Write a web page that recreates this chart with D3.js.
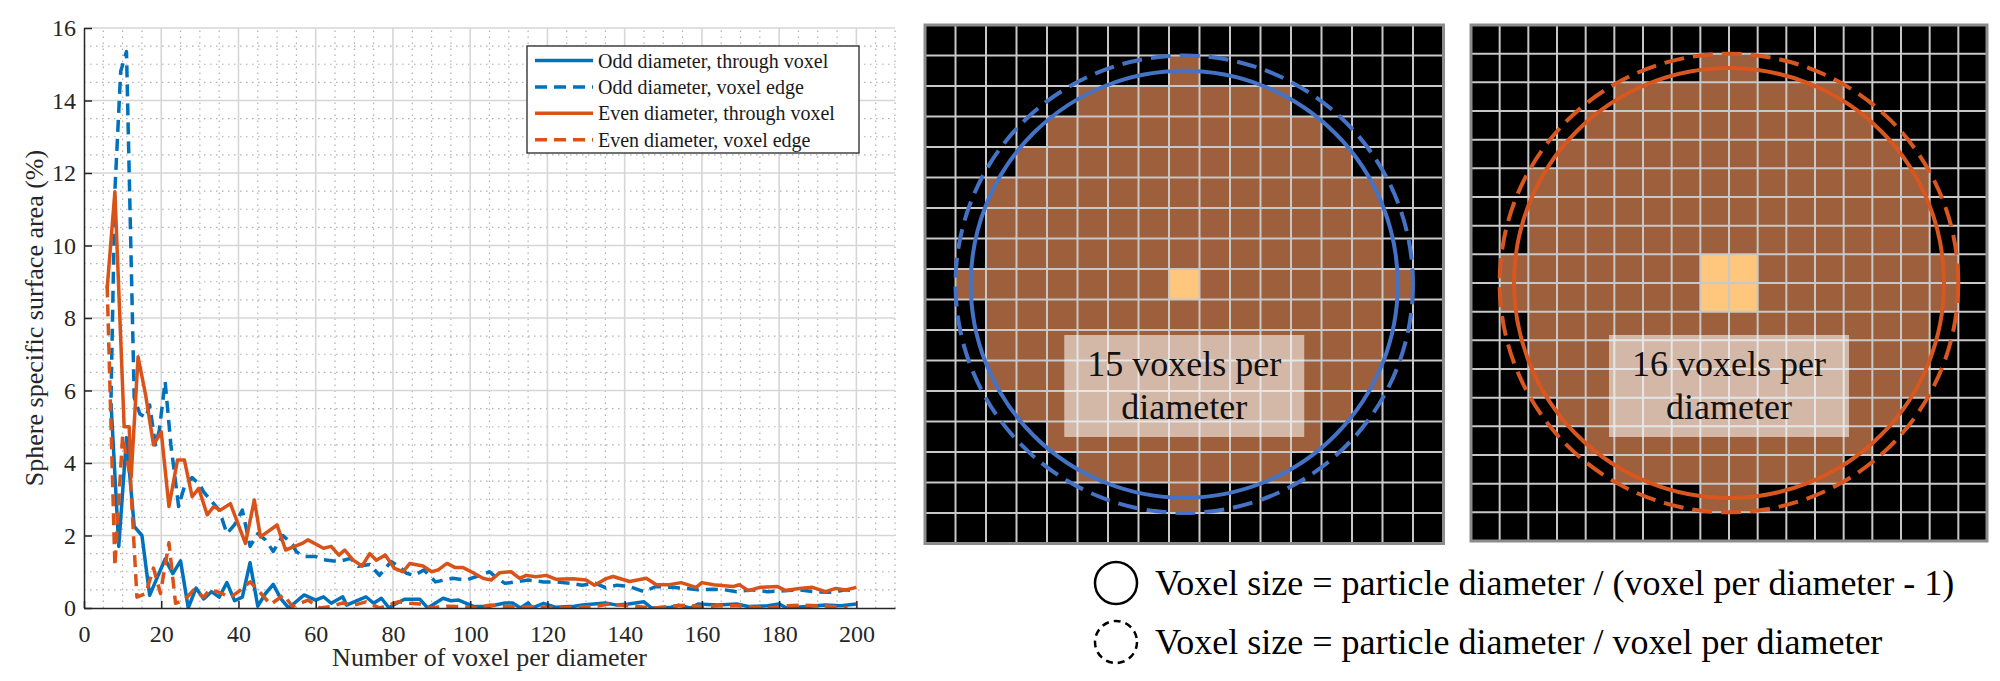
<!DOCTYPE html>
<html>
<head>
<meta charset="utf-8">
<script src="https://cdn.jsdelivr.net/npm/d3@7"></script>
<style>
  body { margin: 0; background: #fff; }
  svg { display: block; font-family: "Liberation Serif", "Times New Roman", serif; }
</style>
</head>
<body>
<div id="chart"></div>
<script>
// ---- chart data: [voxels per diameter, error %] ----
const oddThrough = [
  [7,5.65],[9,1.7],[11,4.7],[13,2.25],[15,2.0],[17,0.35],[19,0.85],[21,1.35],[23,0.95],[25,1.3],
  [27,0.0],[29,0.55],[31,0.25],[33,0.45],[35,0.3],[37,0.7],[39,0.2],[41,0.3],[43,1.25],[45,0.05],
  [47,0.4],[49,0.65],[51,0.25],[53,0.0],[57,0.36],[60,0.22],[62,0.31],[64,0.13],[67,0.31],[68,0.08],
  [71,0.22],[73,0.31],[75,0.13],[77,0.27],[79,0.0],[80,0.08],[83,0.24],[87,0.24],[89,0.0],[93,0.27],
  [95,0.2],[97,0.22],[101,0.04],[105,0.05],[109,0.14],[111,0.14],[113,0.0],[115,0.14],[116,0.0],[119,0.13],
  [122,0.02],[127,0.05],[129,0.08],[132,0.11],[135,0.14],[138,0.08],[141,0.11],[145,0.17],[147,0.0],[152,0.02],
  [154,0.08],[157,0.0],[159,0.11],[164,0.08],[169,0.11],[172,0.04],[177,0.06],[180,0.11],[182,0.0],[187,0.04],
  [192,0.08],[196,0.06],[200,0.11]
];
const oddEdge = [
  [7,5.8],[8,11.5],[9.5,14.8],[11,15.35],[13,5.8],[14.5,5.35],[16,5.25],[17,5.6],[18.5,4.5],[19.5,4.9],
  [21,6.25],[22.5,4.5],[24.5,2.8],[26,3.35],[28,3.6],[30,3.4],[31,3.2],[33,2.95],[35,2.7],[37,2.05],
  [39,2.3],[41,2.7],[43,1.7],[45,2.05],[47,1.88],[49,1.56],[51.5,2.0],[54,1.75],[55,1.55],[57,1.42],
  [60,1.42],[62,1.33],[66,1.28],[69,1.37],[71,1.15],[74,1.2],[76.5,0.9],[79.5,1.28],[81.5,1.15],[83.5,0.96],
  [85.5,0.9],[88,1.05],[91,0.72],[95.5,0.82],[99,0.77],[102.5,0.9],[105,1.0],[107,0.82],[109,0.68],[112,0.72],
  [115,0.77],[119,0.72],[122,0.72],[126,0.68],[129,0.63],[132.5,0.68],[135,0.56],[138,0.63],[141,0.6],[145,0.45],
  [148,0.59],[152,0.57],[156,0.54],[159,0.5],[163,0.52],[166,0.5],[169,0.45],[173,0.5],[177,0.45],[182,0.48],
  [185,0.5],[189,0.45],[194,0.43],[197,0.5],[200,0.48]
];
const evenThrough = [
  [6,8.82],[8,11.48],[10.4,5.0],[11.7,5.0],[12.2,3.6],[14,6.93],[16,5.85],[18,4.5],[20,4.86],[22,2.8],
  [24.2,4.08],[26,4.08],[28,3.07],[29.7,3.3],[31.9,2.57],[33.6,2.8],[35.3,2.7],[37.9,2.88],[41.8,1.78],[44.1,2.98],
  [45.7,1.96],[50,2.29],[52.2,1.6],[56.5,1.78],[58,1.88],[62,1.65],[64,1.7],[66,1.46],[67.5,1.6],[69.7,1.32],
  [72,1.16],[74,1.5],[75.7,1.32],[78,1.46],[80.4,1.09],[82.6,1.0],[84.4,1.23],[87.8,1.16],[90,1.0],[91.7,1.05],
  [94,1.23],[96,1.12],[98,1.12],[100.3,1.0],[103.3,0.82],[105.4,0.77],[107.6,0.97],[110.6,1.0],[112.8,0.82],[114.5,0.9],
  [117,0.86],[119.7,0.9],[122.3,0.79],[126.6,0.81],[130,0.77],[132.2,0.63],[135.2,0.81],[137,0.87],[141.3,0.73],[145.6,0.82],
  [148.2,0.64],[151.6,0.64],[154.6,0.7],[158.5,0.57],[160,0.7],[163,0.64],[168,0.59],[169.7,0.64],[172,0.48],[175,0.57],
  [179.6,0.59],[181.7,0.48],[185.2,0.54],[188.6,0.57],[192,0.45],[194.7,0.54],[197.2,0.5],[200,0.57]
];
const evenEdge = [
  [6,8.9],[8,1.15],[10,4.75],[12,3.6],[13.7,0.3],[16,0.4],[18,1.1],[19.8,0.4],[22,1.8],[23.7,0.13],
  [26,0.22],[28.4,0.5],[31,0.3],[32.5,0.5],[34.5,0.45],[38,0.3],[40,0.45],[43,0.72],[45,0.5],[48.3,0.1],
  [51.7,0.36],[54,0.04],[58,0.22],[61,0.0],[64,0.04],[67,0.14],[70,0.08],[73,0.17],[76.6,0.0],[81.3,0.17],
  [84.4,0.13],[87,0.11],[89.5,0.0],[94,0.05],[98,0.04],[101.6,0.0],[105,0.08],[108.5,0.05],[113.7,0.02],[117,0.05],
  [120.5,0.0],[124,0.0],[128.3,0.02],[132.6,0.05],[136,0.11],[141.3,0.06],[147.4,0.0],[151.6,0.04],[156,0.08],[159.4,0.04],
  [164.6,0.06],[169.7,0.06],[173.2,0.02],[177.5,0.0],[181.8,0.06],[185.2,0.08],[190.4,0.06],[193.8,0.04],[197.7,0.0]
];

const xTicks = [0, 20, 40, 60, 80, 100, 120, 140, 160, 180, 200];
const yTicks = [0, 2, 4, 6, 8, 10, 12, 14, 16];
const legendLabels = [
  "Odd diameter, through voxel",
  "Odd diameter, voxel edge",
  "Even diameter, through voxel",
  "Even diameter, voxel edge"
];

// ---- voxel diagrams: brown cells per row as [first col, last col] ----
const rows15 = [null,[8,8],[5,11],[4,12],[3,13],[2,14],[2,14],[2,14],[1,15],[2,14],[2,14],[2,14],[3,13],[4,12],[5,11],[8,8],null];
const centre15 = [[8,8]];
const rows16 = [null,[8,9],[5,12],[4,13],[3,14],[2,15],[2,15],[2,15],[1,16],[1,16],[2,15],[2,15],[2,15],[3,14],[4,13],[5,12],[8,9],null];
const centre16 = [[8,8],[9,8],[8,9],[9,9]];
const bottomLegend = [
  "Voxel size = particle diameter / (voxel per diameter - 1)",
  "Voxel size = particle diameter / voxel per diameter"
];

const SERIF = "'Liberation Serif', 'Times New Roman', serif";
const BLUE = "#0072BD", ORANGE = "#D95319";
const series = [
  { data: oddThrough, color: BLUE, dash: null },
  { data: oddEdge, color: BLUE, dash: "12,7" },
  { data: evenThrough, color: ORANGE, dash: null },
  { data: evenEdge, color: ORANGE, dash: "12,7" }
];

const svg = d3.select("#chart").append("svg")
  .attr("width", 2000)
  .attr("height", 681);

// ---------------- left: line chart ----------------
const x = d3.scaleLinear().domain([0, 210]).range([84, 895]);
const y = d3.scaleLinear().domain([0, 16]).range([608, 28]);

const grid = svg.append("g");
// minor dotted grid
grid.selectAll(".mx")
  .data(d3.range(0, 211, 5).filter(v => v % 20 !== 0))
  .enter().append("line")
  .attr("x1", d => x(d)).attr("x2", d => x(d))
  .attr("y1", y(0)).attr("y2", y(16))
  .attr("stroke", "#b0b0b0").attr("stroke-width", 1.2)
  .attr("stroke-dasharray", "1.5,4.5");
grid.selectAll(".my")
  .data(d3.range(0.5, 16, 0.5).filter(v => v % 2 !== 0))
  .enter().append("line")
  .attr("x1", x(0)).attr("x2", x(210))
  .attr("y1", d => y(d)).attr("y2", d => y(d))
  .attr("stroke", "#b0b0b0").attr("stroke-width", 1.2)
  .attr("stroke-dasharray", "1.5,4.5");
// major grid
grid.selectAll(".gx")
  .data(xTicks.filter(v => v > 0))
  .enter().append("line")
  .attr("x1", d => x(d)).attr("x2", d => x(d))
  .attr("y1", y(0)).attr("y2", y(16))
  .attr("stroke", "#d6d6d6").attr("stroke-width", 1.6);
grid.selectAll(".gy")
  .data(yTicks.filter(v => v > 0))
  .enter().append("line")
  .attr("x1", x(0)).attr("x2", x(210))
  .attr("y1", d => y(d)).attr("y2", d => y(d))
  .attr("stroke", "#d6d6d6").attr("stroke-width", 1.6);

svg.append("clipPath").attr("id", "plotClip")
  .append("rect")
  .attr("x", x(0)).attr("y", y(16))
  .attr("width", x(210) - x(0)).attr("height", y(0) - y(16));

const line = d3.line().x(d => x(d[0])).y(d => y(d[1]));
svg.append("g").attr("clip-path", "url(#plotClip)")
  .selectAll("path")
  .data(series)
  .enter().append("path")
  .attr("d", d => line(d.data))
  .attr("fill", "none")
  .attr("stroke", d => d.color)
  .attr("stroke-width", 3.5)
  .attr("stroke-linejoin", "round")
  .attr("stroke-dasharray", d => d.dash);

// axes
const xAxis = svg.append("g")
  .attr("transform", `translate(0,${y(0)})`)
  .call(d3.axisBottom(x).tickValues(xTicks).tickSizeInner(-7).tickSizeOuter(0).tickPadding(17));
const yAxis = svg.append("g")
  .attr("transform", `translate(${x(0)},0)`)
  .call(d3.axisLeft(y).tickValues(yTicks).tickSizeInner(-8).tickSizeOuter(0).tickPadding(8));
[xAxis, yAxis].forEach(a => {
  a.attr("font-family", SERIF).attr("font-size", 24);
  a.select(".domain").attr("stroke", "#262626").attr("stroke-width", 1.5);
  a.selectAll(".tick line").attr("stroke", "#262626").attr("stroke-width", 1.5);
  a.selectAll(".tick text")
    .attr("fill", "#262626")
    .style("font-family", SERIF)
    .style("font-size", "24px");
});

svg.append("text")
  .attr("x", (x(0) + x(210)) / 2).attr("y", 666)
  .attr("text-anchor", "middle")
  .attr("fill", "#262626")
  .style("font-size", "26px")
  .text("Number of voxel per diameter");
svg.append("text")
  .attr("transform", `translate(34,${(y(0) + y(16)) / 2}) rotate(-90)`)
  .attr("text-anchor", "middle")
  .attr("dominant-baseline", "central")
  .attr("fill", "#262626")
  .style("font-size", "26px")
  .text("Sphere specific surface area (%)");

// legend
const lg = svg.append("g").attr("transform", "translate(527,46)");
lg.append("rect")
  .attr("width", 332).attr("height", 107)
  .attr("fill", "#fff").attr("stroke", "#262626").attr("stroke-width", 1.3);
const items = lg.selectAll(".item")
  .data(series)
  .enter().append("g")
  .attr("transform", (d, i) => `translate(0,${14.5 + i * 26.4})`);
items.append("line")
  .attr("x1", 8).attr("x2", 66)
  .attr("stroke", d => d.color).attr("stroke-width", 3.5)
  .attr("stroke-dasharray", d => d.dash);
items.append("text")
  .attr("x", 71).attr("dy", "0.35em")
  .attr("fill", "#1a1a1a")
  .style("font-size", "20px")
  .text((d, i) => legendLabels[i]);

// ---------------- right: voxel diagrams ----------------
function voxelPanel(x0, y0, size, n, rows, centre, color) {
  const s = d3.scaleLinear().domain([0, rows.length]).range([0, size]);
  const g = svg.append("g").attr("transform", `translate(${x0},${y0})`);
  g.append("rect").attr("width", size).attr("height", size).attr("fill", "#000");

  const cells = [];
  rows.forEach((span, r) => {
    if (!span) return;
    d3.range(span[0], span[1] + 1).forEach(c => cells.push([c, r]));
  });
  g.selectAll(".cell")
    .data(cells)
    .enter().append("rect")
    .attr("x", d => s(d[0])).attr("y", d => s(d[1]))
    .attr("width", s(1)).attr("height", s(1))
    .attr("fill", "#9d5f3c");
  g.selectAll(".hot")
    .data(centre)
    .enter().append("rect")
    .attr("x", d => s(d[0])).attr("y", d => s(d[1]))
    .attr("width", s(1)).attr("height", s(1))
    .attr("fill", "#ffc77d");

  const ticks = d3.range(1, rows.length);
  g.selectAll(".vl").data(ticks).enter().append("line")
    .attr("x1", d => s(d)).attr("x2", d => s(d))
    .attr("y1", 0).attr("y2", size)
    .attr("stroke", "#c8c8c8").attr("stroke-width", 2);
  g.selectAll(".hl").data(ticks).enter().append("line")
    .attr("y1", d => s(d)).attr("y2", d => s(d))
    .attr("x1", 0).attr("x2", size)
    .attr("stroke", "#c8c8c8").attr("stroke-width", 2);
  g.append("rect").attr("width", size).attr("height", size)
    .attr("fill", "none").attr("stroke", "#8c8c8c").attr("stroke-width", 3);

  const cx = size / 2, cy = size / 2;
  const unit = s(1);
  g.append("circle")
    .attr("cx", cx).attr("cy", cy).attr("r", unit * n / 2)
    .attr("fill", "none").attr("stroke", color).attr("stroke-width", 4)
    .attr("stroke-dasharray", "20,9");
  g.append("circle")
    .attr("cx", cx).attr("cy", cy).attr("r", unit * (n - 1) / 2)
    .attr("fill", "none").attr("stroke", color).attr("stroke-width", 4);

  g.append("rect")
    .attr("x", cx - 120).attr("y", 310)
    .attr("width", 240).attr("height", 102)
    .attr("fill", "#fff").attr("fill-opacity", 0.55);
  const t = g.append("text")
    .attr("text-anchor", "middle")
    .attr("fill", "#111")
    .style("font-size", "36px");
  t.append("tspan").attr("x", cx).attr("y", 351).text(`${n} voxels per`);
  t.append("tspan").attr("x", cx).attr("y", 394).text("diameter");
}

voxelPanel(925, 25, 518.5, 15, rows15, centre15, "#4472c4");
voxelPanel(1471, 25, 516, 16, rows16, centre16, "#d8561f");

// bottom legend
const bl = svg.append("g");
bl.selectAll("circle")
  .data(bottomLegend)
  .enter().append("circle")
  .attr("cx", 1116).attr("cy", (d, i) => 583 + i * 59)
  .attr("r", 21)
  .attr("fill", "none").attr("stroke", "#000").attr("stroke-width", 2.5)
  .attr("stroke-dasharray", (d, i) => i ? "7,5" : null);
bl.selectAll("text")
  .data(bottomLegend)
  .enter().append("text")
  .attr("x", 1155).attr("y", (d, i) => 583 + i * 59)
  .attr("dominant-baseline", "central")
  .attr("fill", "#000")
  .style("font-size", "36px")
  .text(d => d);
</script>
</body>
</html>
